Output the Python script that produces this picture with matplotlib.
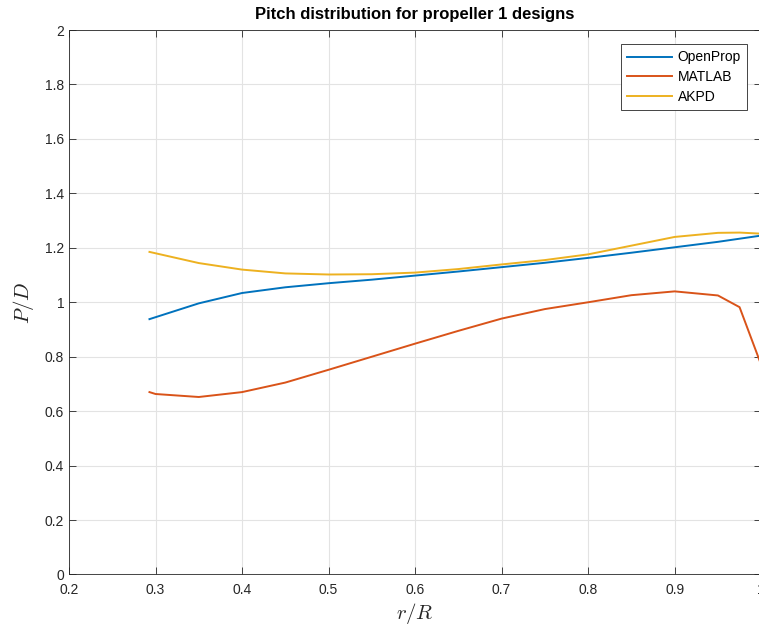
import numpy as np
import matplotlib
matplotlib.use('Agg')
import matplotlib.pyplot as plt
from matplotlib.ticker import FuncFormatter

# radial stations r/R
r_openprop = [0.293, 0.35, 0.4, 0.45, 0.5, 0.55, 0.6, 0.65, 0.7, 0.75, 0.8, 0.85, 0.9, 0.95, 1.0]
pd_openprop = [0.938, 0.996, 1.034, 1.055, 1.070, 1.083, 1.098, 1.113, 1.129, 1.145, 1.163, 1.182, 1.202, 1.222, 1.245]

r_matlab = [0.293, 0.3, 0.35, 0.4, 0.45, 0.5, 0.55, 0.6, 0.65, 0.7, 0.75, 0.8, 0.85, 0.9, 0.95, 0.975, 1.0]
pd_matlab = [0.670, 0.663, 0.652, 0.670, 0.705, 0.752, 0.800, 0.848, 0.895, 0.940, 0.975, 1.000, 1.026, 1.040, 1.025, 0.982, 0.770]

r_akpd = [0.293, 0.35, 0.4, 0.45, 0.5, 0.55, 0.6, 0.65, 0.7, 0.75, 0.8, 0.85, 0.9, 0.95, 0.975, 1.0]
pd_akpd = [1.185, 1.144, 1.120, 1.106, 1.102, 1.103, 1.109, 1.122, 1.139, 1.155, 1.176, 1.208, 1.240, 1.255, 1.256, 1.252]

plt.rcParams['font.family'] = ['Liberation Sans', 'DejaVu Sans']
plt.rcParams['mathtext.fontset'] = 'cm'

axcol = '#262626'
fig = plt.figure(figsize=(7.59, 6.26), dpi=100)
ax = fig.add_axes([0.0909, 0.0823, 0.912, 0.8697])

ax.plot(r_openprop, pd_openprop, color='#0072BD', lw=1.4, label='OpenProp')
ax.plot(r_matlab, pd_matlab, color='#D95319', lw=1.4, label='MATLAB')
ax.plot(r_akpd, pd_akpd, color='#EDB120', lw=1.4, label='AKPD')

ax.set_xlim(0.2, 1.0)
ax.set_ylim(0, 2)
ax.set_xticks(np.arange(0.2, 1.01, 0.1))
ax.set_yticks(np.arange(0, 2.01, 0.2))
fmt = FuncFormatter(lambda v, p: '%g' % round(v, 2))
ax.xaxis.set_major_formatter(fmt)
ax.yaxis.set_major_formatter(fmt)

ax.grid(True, color='#e3e3e3', lw=0.8)
ax.set_axisbelow(True)
ax.tick_params(direction='in', length=5, width=0.6, colors=axcol,
               labelsize=10, top=True, right=True)
ax.tick_params(axis='x', pad=6)
for s in ax.spines.values():
    s.set_color(axcol)
    s.set_linewidth(0.6)

ax.set_title('Pitch distribution for propeller 1 designs', fontsize=12,
             fontweight='bold', color='black', pad=8)
ax.set_xlabel(r'$r/R$', fontsize=15, color=axcol, labelpad=3)
ax.set_ylabel(r'$P/D$', fontsize=15, color=axcol, labelpad=6)

leg = ax.legend(loc='upper right', fontsize=10, fancybox=False, framealpha=1,
                edgecolor=axcol, borderaxespad=0, handlelength=3.2,
                handletextpad=0.45, labelspacing=0.42, borderpad=0.45,
                bbox_to_anchor=(0.980, 0.974))
leg.get_frame().set_linewidth(0.6)

fig.savefig('out.png', dpi=100)
